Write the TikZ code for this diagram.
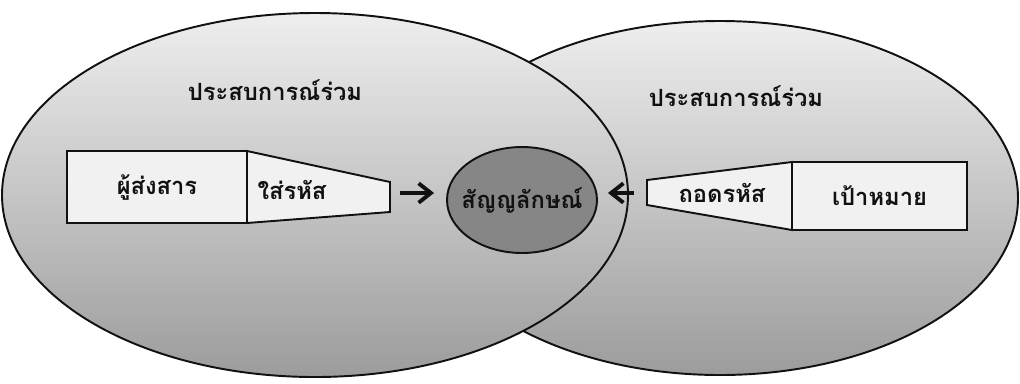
\documentclass[tikz,border=0pt]{standalone}
\usepackage{fontspec}
\newfontfamily\thaifont[Script=Thai]{Loma}
\usetikzlibrary{arrows.meta, shapes.geometric}
\definecolor{my_ink}{HTML}{111111}
\definecolor{my_lightgray}{HTML}{EEEEEE}
\definecolor{my_midgray}{HTML}{9C9C9C}
\definecolor{my_darkgray}{HTML}{5E5E5E}

\begin{document}
\begin{tikzpicture}[
    x=0.02cm, y=-0.02cm,
    outline/.style={draw=my_ink, line width=1.1pt},
    field/.style={outline, top color=my_lightgray, bottom color=my_midgray},
    thaitext/.style={font=\thaifont\bfseries\fontsize{13.5}{16}\selectfont, text=my_ink, inner sep=1pt},
    flow/.style={my_ink, line width=2.2pt, -{Straight Barb[length=7pt, width=11pt]}}
]
\useasboundingbox (0,0) rectangle (1020,383);

% ---------------------------------------------------------------
%  Two overlapping fields of shared experience,
%  sender side on the left, receiver side on the right
% ---------------------------------------------------------------

% ---- Fields (right first, left drawn over it) ----
\shade[field] (720,198) ellipse [x radius=298, y radius=177];
\shade[field] (315,195) ellipse [x radius=313, y radius=182];

\node[thaitext] (expL) at (275,90) {ประสบการณ์ร่วม};
\node[thaitext] (expR) at (736,96) {ประสบการณ์ร่วม};

% ---- Sender side ----
\coordinate (encTL) at (247,151);
\coordinate (encBL) at (247,223);
\coordinate (encTR) at (390,182);
\coordinate (encBR) at (390,212);
\node[outline, fill=my_lightgray!80, minimum width=3.6cm, minimum height=1.44cm,
      thaitext] (sender) at (157,187) {ผู้ส่งสาร};
\filldraw[outline, fill=my_lightgray!80]
    (encTL) -- (encTR) -- (encBR) -- (encBL) -- cycle;
\node[thaitext] (encode) at (292,190) {ใส่รหัส};

% ---- Receiver side ----
\coordinate (decTL) at (647,180);
\coordinate (decBL) at (647,205);
\coordinate (decTR) at (792,162);
\coordinate (decBR) at (792,230);
\node[outline, fill=my_lightgray!80, minimum width=3.5cm, minimum height=1.36cm,
      thaitext] (target) at (879.5,196) {เป้าหมาย};
\filldraw[outline, fill=my_lightgray!80]
    (decTL) -- (decTR) -- (decBR) -- (decBL) -- cycle;
\node[thaitext] (decode) at (722,193) {ถอดรหัส};

% ---- Message ----
\node[ellipse, outline, fill=my_darkgray!75, minimum width=3cm,
      minimum height=2.12cm, inner sep=0pt] (signal) at (522,200) {};
\node[thaitext] (signalText) at (signal) {สัญญลักษณ์};

% ---- Arrows into the message ----
\coordinate (encOut) at (400,193);
\coordinate (decOut) at (634,193);
\draw[flow, shorten >=0.24cm] (encOut) -- (encOut -| signal.west);
\draw[flow, shorten >=0.2cm] (decOut) -- (decOut -| signal.east);

\end{tikzpicture}
\end{document}
